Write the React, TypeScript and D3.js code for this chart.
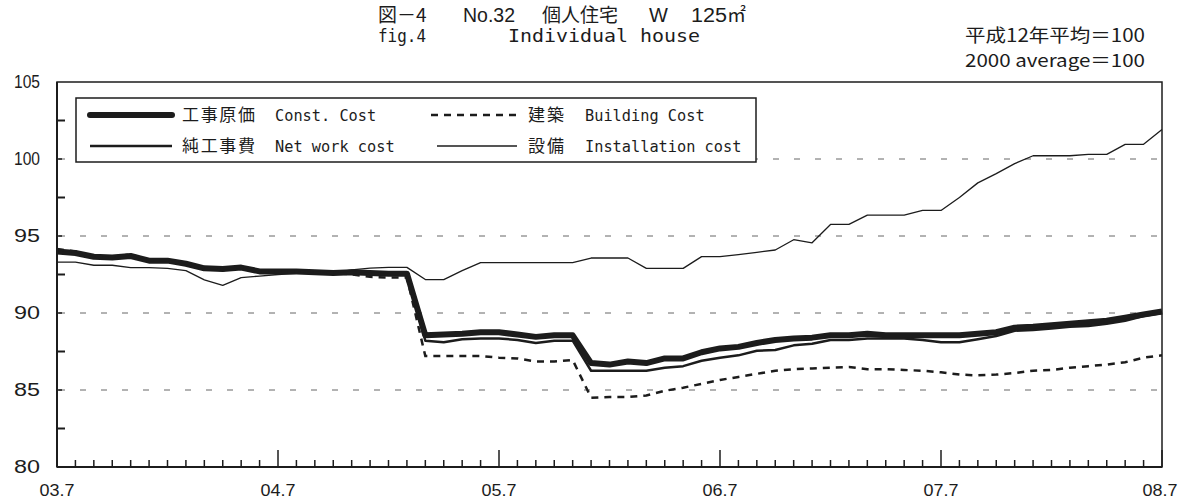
import React from 'react'
import * as d3 from 'd3'

// months from 03.7 to 08.7 (61 monthly points)
const tickLabels = ['03.7', '04.7', '05.7', '06.7', '07.7', '08.7']
const yTicks = [80, 85, 90, 95, 100, 105]
const gridValues = [85, 90, 95, 100]
const minorY = [82.5, 87.5, 92.5, 97.5, 102.5]

// 工事原価 Const. Cost
const constCost = [
  94.0, 93.9, 93.65, 93.6, 93.7, 93.4, 93.4, 93.2, 92.9, 92.85, 92.95, 92.7,
  92.7, 92.7, 92.65, 92.6, 92.65, 92.6, 92.55, 92.55, 88.55, 88.6, 88.65, 88.75,
  88.75, 88.6, 88.45, 88.55, 88.55, 86.75, 86.65, 86.85, 86.75, 87.05, 87.05, 87.45,
  87.7, 87.8, 88.05, 88.25, 88.35, 88.4, 88.55, 88.55, 88.65, 88.55, 88.55, 88.55,
  88.55, 88.55, 88.65, 88.75, 89.05, 89.1, 89.2, 89.3, 89.4, 89.5, 89.7, 89.9,
  90.1,
]

// 純工事費 Net work cost
const netWork = [
  93.95, 93.85, 93.6, 93.55, 93.65, 93.35, 93.35, 93.15, 92.85, 92.8, 92.9, 92.65,
  92.65, 92.65, 92.6, 92.55, 92.6, 92.55, 92.5, 92.5, 88.2, 88.1, 88.3, 88.35,
  88.35, 88.25, 88.05, 88.2, 88.2, 86.25, 86.25, 86.25, 86.25, 86.45, 86.55, 86.9,
  87.1, 87.25, 87.55, 87.6, 87.9, 88.0, 88.25, 88.25, 88.35, 88.35, 88.35, 88.25,
  88.1, 88.1, 88.3, 88.5, 88.85, 88.9, 89.0, 89.1, 89.15, 89.3, 89.5, 89.8,
  90.0,
]

// 建築 Building Cost
const building = [
  94.15, 94.0, 93.65, 93.65, 93.8, 93.45, 93.4, 93.2, 92.95, 92.9, 93.0, 92.7,
  92.7, 92.7, 92.65, 92.6, 92.5, 92.35, 92.3, 92.3, 87.2, 87.2, 87.2, 87.2,
  87.1, 87.05, 86.85, 86.85, 86.95, 84.5, 84.55, 84.55, 84.65, 84.95, 85.15, 85.4,
  85.65, 85.85, 86.05, 86.25, 86.35, 86.4, 86.45, 86.5, 86.35, 86.35, 86.3, 86.25,
  86.15, 86.0, 85.95, 86.0, 86.1, 86.25, 86.3, 86.45, 86.55, 86.65, 86.8, 87.1,
  87.25,
]

// 設備 Installation cost
const installation = [
  93.3, 93.3, 93.1, 93.1, 92.95, 92.95, 92.9, 92.75, 92.15, 91.8, 92.3, 92.4,
  92.5, 92.58, 92.6, 92.6, 92.8, 92.92, 92.96, 92.96, 92.17, 92.17, 92.75, 93.27,
  93.27, 93.27, 93.27, 93.27, 93.27, 93.57, 93.57, 93.57, 92.9, 92.9, 92.9, 93.66,
  93.66, 93.79, 93.94, 94.09, 94.76, 94.56, 95.75, 95.75, 96.36, 96.36, 96.36, 96.66,
  96.66, 97.5, 98.45, 99.05, 99.7, 100.21, 100.21, 100.21, 100.3, 100.3, 100.95, 100.95,
  101.92,
]

const INK = '#1c1c1c'
const MONO = "'DejaVu Sans Mono', 'Liberation Mono', monospace"
const CJK = "'Noto Sans CJK JP', sans-serif"
const NUM = "'Liberation Sans', Arial, sans-serif"

const App = () => {
  const x = d3.scaleLinear().domain([0, 60]).range([57, 1162])
  const y = d3.scaleLinear().domain([80, 105]).range([467, 82])

  const line = d3
    .line<number>()
    .x((d, i) => x(i))
    .y((d) => y(d))

  const months = d3.range(0, 61)

  // monospace text squeezed to the reference's ~9.2px per character
  const mono = (s: string, xPos: number, yPos: number, w = 9.2) => (
    <text x={xPos} y={yPos} textLength={s.length * w} lengthAdjust='spacingAndGlyphs'>
      {s}
    </text>
  )

  return (
    <svg
      width={1179}
      height={500}
      style={{ position: 'absolute', left: 0, top: 0, background: '#fff' }}
    >
      {/* titles */}
      <g fill={INK} fontSize={19} fontFamily={CJK}>
        <text x={378} y={22}>図－4</text>
        <text x={463} y={22} fontFamily={NUM} fontSize={20} textLength={52} lengthAdjust='spacingAndGlyphs'>No.32</text>
        <text x={542} y={22}>個人住宅</text>
        <text x={649} y={22} fontFamily={NUM} fontSize={20}>W</text>
        <text x={691} y={22} fontFamily={NUM} fontSize={20} textLength={36} lengthAdjust='spacingAndGlyphs'>125</text>
        <text x={727} y={22}>㎡</text>
      </g>
      <g fill={INK} fontSize={17} fontFamily={MONO}>
        {mono('fig.4', 378, 42, 9.6)}
        {mono('Individual house', 508, 42, 12)}
      </g>
      <g fill={INK} fontSize={18} fontFamily={CJK} textAnchor='end'>
        <text x={1145} y={42} textLength={180} lengthAdjust='spacingAndGlyphs'>平成12年平均＝100</text>
        <text x={1145} y={67} textLength={180} lengthAdjust='spacingAndGlyphs'>2000 average＝100</text>
      </g>

      {/* gridlines */}
      {gridValues.map((v) => (
        <line
          key={v}
          x1={x(0) + 2}
          x2={x(60)}
          y1={y(v)}
          y2={y(v)}
          stroke='#666'
          strokeWidth={1}
          strokeDasharray='6 15'
        />
      ))}

      {/* series */}
      <path d={line(constCost) || ''} fill='none' stroke={INK} strokeWidth={6} strokeLinejoin='round' />
      <path d={line(netWork) || ''} fill='none' stroke={INK} strokeWidth={2.5} strokeLinejoin='round' />
      <path d={line(building) || ''} fill='none' stroke={INK} strokeWidth={2.5} strokeDasharray='7 6' />
      <path d={line(installation) || ''} fill='none' stroke={INK} strokeWidth={1.3} strokeLinejoin='round' />

      {/* frame */}
      <rect x={x(0)} y={y(105)} width={x(60) - x(0)} height={y(80) - y(105)} fill='none' stroke={INK} strokeWidth={1.5} />
      <line x1={x(0)} x2={x(60)} y1={y(80)} y2={y(80)} stroke={INK} strokeWidth={2} />
      <line x1={x(0)} x2={x(0)} y1={y(105)} y2={y(80)} stroke={INK} strokeWidth={2} />

      {/* y ticks */}
      {minorY.map((v) => (
        <line key={v} x1={x(0)} x2={x(0) + 8} y1={y(v)} y2={y(v)} stroke={INK} strokeWidth={2} />
      ))}
      {gridValues.map((v) => (
        <line key={v} x1={x(0)} x2={x(0) + 5} y1={y(v)} y2={y(v)} stroke={INK} strokeWidth={1.5} />
      ))}
      <g fill={INK} fontSize={18} fontFamily={NUM} textAnchor='end'>
        {yTicks.map((v) => (
          <text key={v} x={40} y={y(v) + 6} textLength={26} lengthAdjust='spacingAndGlyphs'>
            {v}
          </text>
        ))}
      </g>

      {/* x ticks */}
      {months.map((m) => (
        <line
          key={m}
          x1={x(m)}
          x2={x(m)}
          y1={y(80)}
          y2={y(80) - (m % 12 === 0 ? 17 : 7)}
          stroke={INK}
          strokeWidth={1.5}
        />
      ))}
      <g fill={INK} fontSize={17} fontFamily={NUM} textAnchor='middle'>
        {tickLabels.map((t, i) => (
          <text key={t} x={i === 5 ? x(i * 12) - 2 : x(i * 12)} y={496} textLength={35} lengthAdjust='spacingAndGlyphs'>
            {t}
          </text>
        ))}
      </g>

      {/* legend */}
      <rect x={76} y={98} width={680} height={64} fill='#fff' stroke={INK} strokeWidth={1.5} />
      <line x1={90} x2={172} y1={115} y2={115} stroke={INK} strokeWidth={6} strokeLinecap='round' />
      <line x1={90} x2={172} y1={146} y2={146} stroke={INK} strokeWidth={2.5} />
      <line x1={431} x2={517} y1={115} y2={115} stroke={INK} strokeWidth={2.5} strokeDasharray='7 6' />
      <line x1={437} x2={517} y1={146} y2={146} stroke={INK} strokeWidth={1.3} />
      <g fill={INK} fontSize={17} fontFamily={CJK}>
        <text x={182} y={121} textLength={73} lengthAdjust='spacing'>工事原価</text>
        <text x={182} y={152} textLength={73} lengthAdjust='spacing'>純工事費</text>
        <text x={528} y={121} textLength={36} lengthAdjust='spacing'>建築</text>
        <text x={528} y={152} textLength={36} lengthAdjust='spacing'>設備</text>
      </g>
      <g fill={INK} fontSize={16.5} fontFamily={MONO}>
        {mono('Const. Cost', 275, 121)}
        {mono('Net work cost', 275, 152)}
        {mono('Building Cost', 585, 121)}
        {mono('Installation cost', 585, 152)}
      </g>
    </svg>
  )
}

export default App
